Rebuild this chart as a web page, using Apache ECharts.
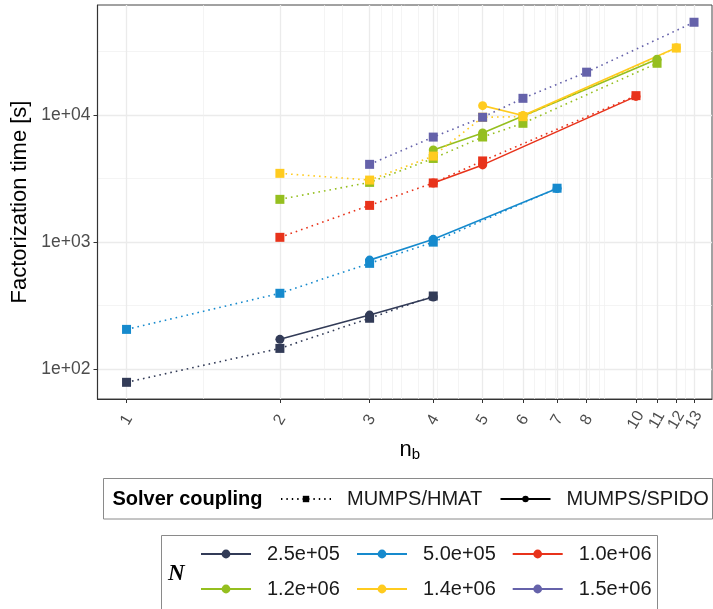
<!DOCTYPE html>
<html><head><meta charset="utf-8">
<script src="https://cdn.jsdelivr.net/npm/echarts@6/dist/echarts.min.js"></script>
<style>html,body{margin:0;padding:0;background:#fff}#c{width:713px;height:609px}</style>
</head><body><div id="c"></div>
<script>
// ---- axis ticks / grid ----
const xTicks = [1, 2, 3, 4, 5, 6, 7, 8, 10, 11, 12, 13];
const xMinorGrid = [1.414, 2.449, 2.646, 3.162, 3.317, 3.464, 3.742, 4.07, 4.472, 5.477, 6.325, 6.633, 6.928, 7.211, 7.746, 8.1, 8.47, 8.66, 10.3, 12.49];
const yTicks = [100, 1000, 10000];
const yMinorGrid = [316.2, 3162.3, 31622.8];

// ---- groups ----
const groupNames = ['2.5e+05', '5.0e+05', '1.0e+06', '1.2e+06', '1.4e+06', '1.5e+06'];
const groupColors = ['#323B57', '#168ACD', '#E8331B', '#95BF1F', '#FFCB1F', '#6562AA'];
const couplingNames = ['MUMPS/HMAT', 'MUMPS/SPIDO'];

// ---- MUMPS/SPIDO (solid, circles) ----
const spidoX_250k = [2, 3, 4];
const spidoY_250k = [172, 267, 370];
const spidoX_500k = [3, 4, 7];
const spidoY_500k = [722, 1052, 2640];
const spidoX_1000k = [4, 5, 10];
const spidoY_1000k = [2920, 4050, 14000];
const spidoX_1200k = [4, 5, 6, 11];
const spidoY_1200k = [5300, 7210, 9800, 27400];
const spidoX_1400k = [5, 6, 12];
const spidoY_1400k = [11840, 9900, 33800];
const spidoX_1500k = [];
const spidoY_1500k = [];

// ---- MUMPS/HMAT (dotted, squares) ----
const hmatX_250k = [1, 2, 3, 4];
const hmatY_250k = [79, 146, 252, 377];
const hmatX_500k = [1, 2, 3, 4, 7];
const hmatY_500k = [206, 396, 681, 1000, 2655];
const hmatX_1000k = [2, 3, 4, 5, 10];
const hmatY_1000k = [1091, 1945, 2920, 4350, 14190];
const hmatX_1200k = [2, 3, 4, 5, 6, 11];
const hmatY_1200k = [2170, 2950, 4550, 6710, 8600, 25500];
const hmatX_1400k = [2, 3, 4, 5, 6, 12];
const hmatY_1400k = [3475, 3076, 4750, 9600, 9700, 33600];
const hmatX_1500k = [3, 4, 5, 6, 8, 13];
const hmatY_1500k = [4090, 6700, 9590, 13520, 21700, 53600];

const spidoXs = [spidoX_250k, spidoX_500k, spidoX_1000k, spidoX_1200k, spidoX_1400k, spidoX_1500k];
const spidoYs = [spidoY_250k, spidoY_500k, spidoY_1000k, spidoY_1200k, spidoY_1400k, spidoY_1500k];
const hmatXs = [hmatX_250k, hmatX_500k, hmatX_1000k, hmatX_1200k, hmatX_1400k, hmatX_1500k];
const hmatYs = [hmatY_250k, hmatY_500k, hmatY_1000k, hmatY_1200k, hmatY_1400k, hmatY_1500k];

const FONT = 'Liberation Sans';
const DOT = [1.6, 4.0];
const zip = (xs, ys) => xs.map((x, i) => [x, ys[i]]);

const series = [];
groupNames.forEach((n, i) => {
  series.push({
    name: n, type: 'line', xAxisIndex: 0, yAxisIndex: 0,
    data: zip(spidoXs[i], spidoYs[i]),
    symbol: 'circle', symbolSize: 9, showSymbol: true,
    color: groupColors[i],
    lineStyle: { width: 1.6, color: groupColors[i], type: 'solid' },
    itemStyle: { color: groupColors[i] },
    emphasis: { disabled: true }, animation: false
  });
});
groupNames.forEach((n, i) => {
  series.push({
    name: n, type: 'line', xAxisIndex: 0, yAxisIndex: 0,
    data: zip(hmatXs[i], hmatYs[i]),
    symbol: 'rect', symbolSize: 9, showSymbol: true,
    color: groupColors[i],
    lineStyle: { width: 1.6, color: groupColors[i], type: DOT },
    itemStyle: { color: groupColors[i] },
    emphasis: { disabled: true }, animation: false
  });
});
// legend-only series for solver coupling
series.push({ name: couplingNames[0], type: 'line', data: [], symbol: 'rect', color: '#000',
  lineStyle: { width: 1.2, color: '#000', type: [1.4, 4] }, itemStyle: { color: '#000' } });
series.push({ name: couplingNames[1], type: 'line', data: [], symbol: 'circle', color: '#000',
  lineStyle: { width: 1.4, color: '#000', type: 'solid' }, itemStyle: { color: '#000' } });

function legendItem(name, left, cy, ih) {
  return {
    data: [name], left: left, top: cy - 10, padding: 0,
    itemWidth: 50, itemHeight: ih, selectedMode: false,
    textStyle: { fontSize: 20, color: '#1a1a1a', fontFamily: FONT, padding: [0, 0, 0, 11] }
  };
}
const legends = [
  legendItem(couplingNames[0], 280, 499, 8),
  legendItem(couplingNames[1], 499.5, 499, 8),
  legendItem(groupNames[0], 200, 554, 11),
  legendItem(groupNames[1], 356, 554, 11),
  legendItem(groupNames[2], 511.7, 554, 11),
  legendItem(groupNames[3], 200, 589, 11),
  legendItem(groupNames[4], 356, 589, 11),
  legendItem(groupNames[5], 511.7, 589, 11)
];

function sciLabel(v) {
  const e = Math.floor(Math.log10(v) + 1e-9);
  const m = v / Math.pow(10, e);
  const ms = Math.abs(m - Math.round(m)) < 1e-6 ? String(Math.round(m)) : m.toFixed(1);
  return ms + 'e' + (e < 0 ? '-' : '+') + String(Math.abs(e)).padStart(2, '0');
}

const X_MIN = 0.877, X_MAX = 14.1, Y_MIN = 58.4, Y_MAX = 73250;
// tick labels alternate over two axes so that neighbouring crowded labels are never auto-hidden
const xTicksOdd = xTicks.filter((v, i) => i % 2 === 0);
const xTicksEven = xTicks.filter((v, i) => i % 2 === 1);

const xLabelStyle = { rotate: 60, margin: 21, fontSize: 16, color: '#4d4d4d', fontFamily: FONT,
  align: 'center', verticalAlign: 'middle',
  interval: 0, hideOverlap: false, showMinLabel: true, showMaxLabel: true,
  formatter: v => String(Math.round(v)) };

const option = {
  animation: false,
  backgroundColor: '#fff',
  textStyle: { fontFamily: FONT },
  grid: { left: 97.5, right: 1, top: 5, bottom: 210, containLabel: false, outerBoundsMode: 'none',
          show: true, borderColor: '#444', borderWidth: 1, backgroundColor: 'transparent' },
  xAxis: [
    {
      type: 'log', logBase: 10, min: X_MIN, max: X_MAX,
      name: 'n{s|b}', nameLocation: 'middle', nameGap: 34,
      nameTextStyle: { fontSize: 22, color: '#000', fontFamily: FONT, padding: [0, 0, 0, 10],
        rich: { s: { fontSize: 15, color: '#000', fontFamily: FONT, padding: [10, 0, 0, 0] } } },
      axisLine: { show: true, onZero: false, lineStyle: { color: '#333', width: 1.2 } },
      axisTick: { show: true, length: 4, lineStyle: { color: '#333', width: 1 }, customValues: xTicks },
      axisLabel: Object.assign({ customValues: xTicksOdd }, xLabelStyle),
      splitLine: { show: true, lineStyle: { color: '#EBEBEB', width: 1.3 } },
      minorTick: { show: false }
    },
    {
      type: 'log', logBase: 10, min: X_MIN, max: X_MAX, position: 'bottom',
      axisLine: { show: false }, axisLabel: { show: false },
      axisTick: { show: false, customValues: xMinorGrid },
      splitLine: { show: true, lineStyle: { color: '#EFEFEF', width: 0.7 } }
    },
    {
      type: 'log', logBase: 10, min: X_MIN, max: X_MAX, position: 'bottom',
      axisLine: { show: false }, splitLine: { show: false },
      axisTick: { show: false, customValues: xTicksEven },
      axisLabel: Object.assign({ customValues: xTicksEven }, xLabelStyle)
    }
  ],
  yAxis: [
    {
      type: 'log', logBase: 10, min: Y_MIN, max: Y_MAX,
      name: 'Factorization time [s]', nameLocation: 'middle', nameGap: 63,
      nameTextStyle: { fontSize: 22, color: '#000', fontFamily: FONT },
      axisLine: { show: true, onZero: false, lineStyle: { color: '#333', width: 1.2 } },
      axisTick: { show: true, length: 4, lineStyle: { color: '#333', width: 1 }, customValues: yTicks },
      axisLabel: { customValues: yTicks, margin: 7, fontSize: 17.5, color: '#4d4d4d', fontFamily: FONT,
                   formatter: v => sciLabel(v) },
      splitLine: { show: true, lineStyle: { color: '#EBEBEB', width: 1.3 } }
    },
    {
      type: 'log', logBase: 10, min: Y_MIN, max: Y_MAX, position: 'left',
      axisLine: { show: false }, axisLabel: { show: false },
      axisTick: { show: false, customValues: yMinorGrid },
      splitLine: { show: true, lineStyle: { color: '#EFEFEF', width: 0.7 } }
    }
  ],
  legend: legends,
  graphic: [
    { type: 'rect', shape: { x: 103.5, y: 478.5, width: 609, height: 40.5 },
      style: { fill: '#fff', stroke: '#8a8a8a', lineWidth: 1 }, z: -1 },
    { type: 'rect', shape: { x: 161.5, y: 535.5, width: 496, height: 80 },
      style: { fill: '#fff', stroke: '#8a8a8a', lineWidth: 1 }, z: -1 },
    { type: 'text', x: 112.5, y: 499,
      style: { text: 'Solver coupling', fontSize: 20, fontWeight: 'bold', fontFamily: FONT, fill: '#000',
               textVerticalAlign: 'middle', verticalAlign: 'middle' } },
    { type: 'text', x: 168, y: 574,
      style: { text: 'N', fontSize: 23, fontWeight: 'bold', fontStyle: 'italic', fontFamily: 'Liberation Serif', fill: '#000',
               textVerticalAlign: 'middle', verticalAlign: 'middle' } }
  ],
  series: series
};

const chart = echarts.init(document.getElementById('c'), null, { renderer: 'canvas' });
chart.setOption(option);
</script>
</body></html>
